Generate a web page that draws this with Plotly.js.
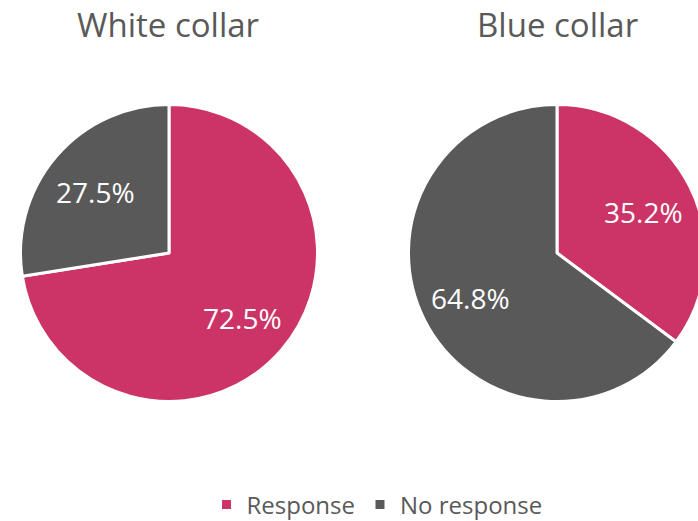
<!DOCTYPE html>
<html>
<head>
<meta charset="utf-8">
<script src="https://cdn.plot.ly/plotly-3.0.1.min.js"></script>
<style>
html,body{margin:0;padding:0;overflow:hidden;background:#fff;}
#chart{width:720px;height:540px;}
</style>
</head>
<body>
<div id="chart"></div>
<script>
const categories = ["Response", "No response"];
const groups = ["White collar", "Blue collar"];
const whiteCollar = [72.5, 27.5];
const blueCollar = [35.2, 64.8];
const colors = ["#CC3366", "#595959"];

const W = 720, H = 540;
const font = "'Open Sans', 'Noto Sans', sans-serif";
const R = 148.5, CY = 253;
const centers = [169, 557];

function pie(values, cx, name, showlegend) {
  return {
    type: "pie",
    name: name,
    labels: categories,
    values: values,
    sort: false,
    direction: "clockwise",
    rotation: 0,
    marker: {colors: colors, line: {color: "#ffffff", width: 3}},
    textinfo: "none",
    textposition: "none",
    showlegend: showlegend,
    hoverinfo: "label+percent",
    domain: {x: [(cx - R) / W, (cx + R) / W], y: [(H - CY - R) / H, (H - CY + R) / H]}
  };
}

const data = [
  pie(whiteCollar, centers[0], groups[0], true),
  pie(blueCollar, centers[1], groups[1], false)
];

// percentage labels placed along each slice's bisector
const labelAnns = [];
[whiteCollar, blueCollar].forEach((vals, k) => {
  const total = vals.reduce((a, b) => a + b, 0);
  let cum = 0;
  vals.forEach(v => {
    const mid = (cum + v / 2) / total * 2 * Math.PI; // clockwise from top
    cum += v;
    const rr = 0.65 * R;
    const px = centers[k] + rr * Math.sin(mid);
    const py = CY + 2 + (-rr * Math.cos(mid));
    labelAnns.push({
      text: (v / total * 100).toFixed(1) + "%",
      x: px / W, y: 1 - py / H, xref: "paper", yref: "paper", showarrow: false,
      xanchor: "center", yanchor: "middle",
      font: {size: 28, color: "#ffffff", family: font}
    });
  });
});

const layout = {
  width: W, height: H,
  margin: {l: 0, r: 0, t: 0, b: 0},
  paper_bgcolor: "#ffffff",
  font: {family: font, color: "#595959"},
  showlegend: true,
  legend: {
    orientation: "h", x: 377 / W, xanchor: "center", y: (H - 505) / H, yanchor: "middle",
    font: {size: 24, color: "#595959", family: font},
    itemwidth: 30
  },
  annotations: [
    {text: groups[0], x: 168 / W, y: 1 - 25 / H, xref: "paper", yref: "paper", showarrow: false,
     xanchor: "center", yanchor: "middle", font: {size: 33, color: "#595959", family: font}},
    {text: groups[1], x: centers[1] / W, y: 1 - 25 / H, xref: "paper", yref: "paper", showarrow: false,
     xanchor: "center", yanchor: "middle", font: {size: 33, color: "#595959", family: font}}
  ].concat(labelAnns)
};

Plotly.newPlot("chart", data, layout, {displayModeBar: false, staticPlot: true});
</script>
</body>
</html>
